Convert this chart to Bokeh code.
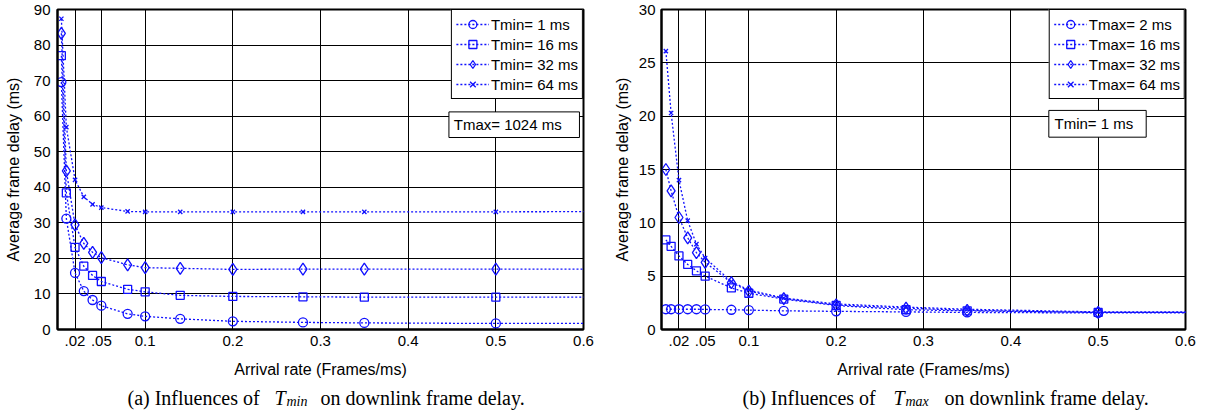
from bokeh.plotting import figure
from bokeh.layouts import row, column
from bokeh.models import Range1d, FixedTicker, Legend, LegendItem, BoxAnnotation, Label
from bokeh.embed import file_html
from bokeh.resources import INLINE

# ---------------- data ----------------
x_a = [0.0044, 0.0101, 0.02, 0.03, 0.04, 0.05, 0.08, 0.1, 0.14, 0.2, 0.28, 0.35, 0.5, 1.0]
tmin_1 = [69.6, 31.2, 15.9, 10.8, 8.3, 6.7, 4.4, 3.7, 3.0, 2.3, 2.0, 1.85, 1.7, 1.7]
tmin_16 = [77.0, 38.4, 23.1, 17.8, 15.2, 13.5, 11.3, 10.6, 9.6, 9.3, 9.2, 9.1, 9.1, 9.1]
tmin_32 = [83.3, 44.6, 29.4, 24.2, 21.7, 20.2, 18.2, 17.4, 17.2, 16.9, 17.0, 17.0, 17.0, 17.0]
tmin_64 = [87.4, 56.9, 42.1, 37.3, 35.2, 34.3, 33.2, 33.1, 33.1, 33.1, 33.1, 33.1, 33.1, 33.3]
labels_a = ["Tmin= 1 ms", "Tmin= 16 ms", "Tmin= 32 ms", "Tmin= 64 ms"]

x_b = [0.005, 0.011, 0.02, 0.03, 0.04, 0.05, 0.08, 0.1, 0.14, 0.2, 0.28, 0.35, 0.5, 1.0]
tmax_2 = [1.9, 1.9, 1.9, 1.9, 1.9, 1.88, 1.85, 1.82, 1.75, 1.7, 1.65, 1.6, 1.55, 1.55]
tmax_16 = [8.4, 7.8, 6.9, 6.1, 5.5, 5.0, 3.9, 3.4, 2.85, 2.25, 1.85, 1.75, 1.6, 1.6]
tmax_32 = [15.0, 13.0, 10.5, 8.6, 7.2, 6.3, 4.4, 3.6, 2.9, 2.3, 2.0, 1.8, 1.6, 1.6]
tmax_64 = [26.1, 20.3, 14.0, 10.2, 8.0, 6.7, 4.5, 3.7, 2.95, 2.4, 2.1, 1.9, 1.65, 1.6]
labels_b = ["Tmax= 2 ms", "Tmax= 16 ms", "Tmax= 32 ms", "Tmax= 64 ms"]

x_ticks = [0.02, 0.05, 0.1, 0.2, 0.3, 0.4, 0.5, 0.6]
x_tick_labels = [".02", ".05", "0.1", "0.2", "0.3", "0.4", "0.5", "0.6"]
y_ticks_a = [0, 10, 20, 30, 40, 50, 60, 70, 80, 90]
y_ticks_b = [0, 5, 10, 15, 20, 25, 30]

SANS = "Liberation Sans"
SERIF = "Liberation Serif"
BLUE = "#1010ff"
markers = [("circle", 9), ("square", 8), ("diamond", 12), ("x", 6)]


def make_fig(xs, series, labels, yticks, ymax, width, border_left, border_right,
             tick_standoff, title_standoff):
    p = figure(width=width, height=384, output_backend="svg", toolbar_location=None,
               x_range=Range1d(0, 0.6), y_range=Range1d(0, ymax),
               min_border_left=border_left, min_border_right=border_right,
               min_border_top=9, min_border_bottom=55)
    p.background_fill_color = "white"
    p.border_fill_color = "white"
    p.outline_line_color = "black"
    p.outline_line_width = 2
    p.outline_line_alpha = 1

    p.xaxis.ticker = FixedTicker(ticks=x_ticks)
    p.xaxis.major_label_overrides = {t: l for t, l in zip(x_ticks, x_tick_labels)}
    p.yaxis.ticker = FixedTicker(ticks=yticks)
    for ax in (p.xaxis, p.yaxis):
        ax.major_tick_out = 0
        ax.major_tick_in = 0
        ax.minor_tick_out = 0
        ax.minor_tick_in = 0
        ax.axis_line_color = "black"
        ax.axis_line_width = 2
        ax.major_label_text_font = SANS
        ax.major_label_text_font_size = "15px"
        ax.major_label_text_color = "black"
        ax.axis_label_text_font = SANS
        ax.axis_label_text_font_size = "16px"
        ax.axis_label_text_font_style = "normal"
        ax.axis_label_text_color = "black"
    p.xaxis.axis_label = "Arrival rate (Frames/ms)"
    p.yaxis.axis_label = "Average frame delay (ms)"
    p.xaxis.major_label_standoff = 6
    p.yaxis.major_label_standoff = tick_standoff
    p.xaxis.axis_label_standoff = 12
    p.yaxis.axis_label_standoff = title_standoff

    p.xgrid.ticker = FixedTicker(ticks=x_ticks)
    p.ygrid.ticker = FixedTicker(ticks=yticks)
    for g in (p.xgrid, p.ygrid):
        g.grid_line_color = "black"
        g.grid_line_width = 1
        g.grid_line_alpha = 1

    items = []
    for ys, lab, (mk, sz) in zip(series, labels, markers):
        r1 = p.line(xs, ys, line_color=BLUE, line_width=1.3, line_dash="2 2")
        r2 = p.scatter(xs, ys, marker=mk, size=sz, line_color=BLUE, line_width=1.3,
                       fill_alpha=0)
        items.append(LegendItem(label=lab, renderers=[r1, r2]))
    leg = Legend(items=items, location="top_right", margin=0, padding=4, spacing=0,
                 glyph_width=33, glyph_height=20, label_height=20, label_standoff=2,
                 border_line_color="black", border_line_width=1, border_line_alpha=1,
                 background_fill_color="white", background_fill_alpha=1,
                 label_text_font=SANS, label_text_font_size="15px",
                 label_text_color="black")
    p.add_layout(leg)
    return p


pa = make_fig(x_a, [tmin_1, tmin_16, tmin_32, tmin_64], labels_a, y_ticks_a, 90,
              610, 57, 27, 7, 9)
pb = make_fig(x_b, [tmax_2, tmax_16, tmax_32, tmax_64], labels_b, y_ticks_b, 30,
              588, 49, 13, 6, 5)

# info boxes
pa.add_layout(BoxAnnotation(left=0.4465, right=0.5954, bottom=54.0, top=61.2,
                            fill_color="white", fill_alpha=1, line_color="black",
                            line_width=1, line_alpha=1))
pa.add_layout(Label(x=0.452, y=57.6, text="Tmax= 1024 ms", text_baseline="middle",
                    text_font=SANS, text_font_size="15px", text_color="black"))
pb.add_layout(BoxAnnotation(left=0.4435, right=0.555, bottom=18.03, top=20.54,
                            fill_color="white", fill_alpha=1, line_color="black",
                            line_width=1, line_alpha=1))
pb.add_layout(Label(x=0.45, y=19.28, text="Tmin= 1 ms", text_baseline="middle",
                    text_font=SANS, text_font_size="15px", text_color="black"))


def caption_fig(width, parts):
    c = figure(width=width, height=28, output_backend="svg", toolbar_location=None,
               x_range=Range1d(0, width), y_range=Range1d(0, 28),
               min_border_left=0, min_border_right=0, min_border_top=0,
               min_border_bottom=0)
    c.axis.visible = False
    c.grid.visible = False
    c.outline_line_color = None
    c.background_fill_color = "white"
    c.border_fill_color = "white"
    for (txt, xx, yy, size, style) in parts:
        c.add_layout(Label(x=xx, y=yy, text=txt, text_font=SERIF, text_font_size=size,
                           text_font_style=style, text_baseline="alphabetic",
                           text_color="black"))
    return c


ca = caption_fig(610, [("(a) Influences of", 127, 15, "20px", "normal"),
                       ("T", 274, 15, "20px", "italic"),
                       ("min", 286, 11, "14px", "italic"),
                       ("on downlink frame delay.", 320, 15, "20px", "normal")])
cb = caption_fig(588, [("(b) Influences of", 132, 15, "20px", "normal"),
                       ("T", 283, 15, "20px", "italic"),
                       ("max", 295, 11, "14px", "italic"),
                       ("on downlink frame delay.", 334, 15, "20px", "normal")])

layout = column(row(pa, pb), row(ca, cb))
open("out.html", "w").write(file_html(layout, INLINE))
